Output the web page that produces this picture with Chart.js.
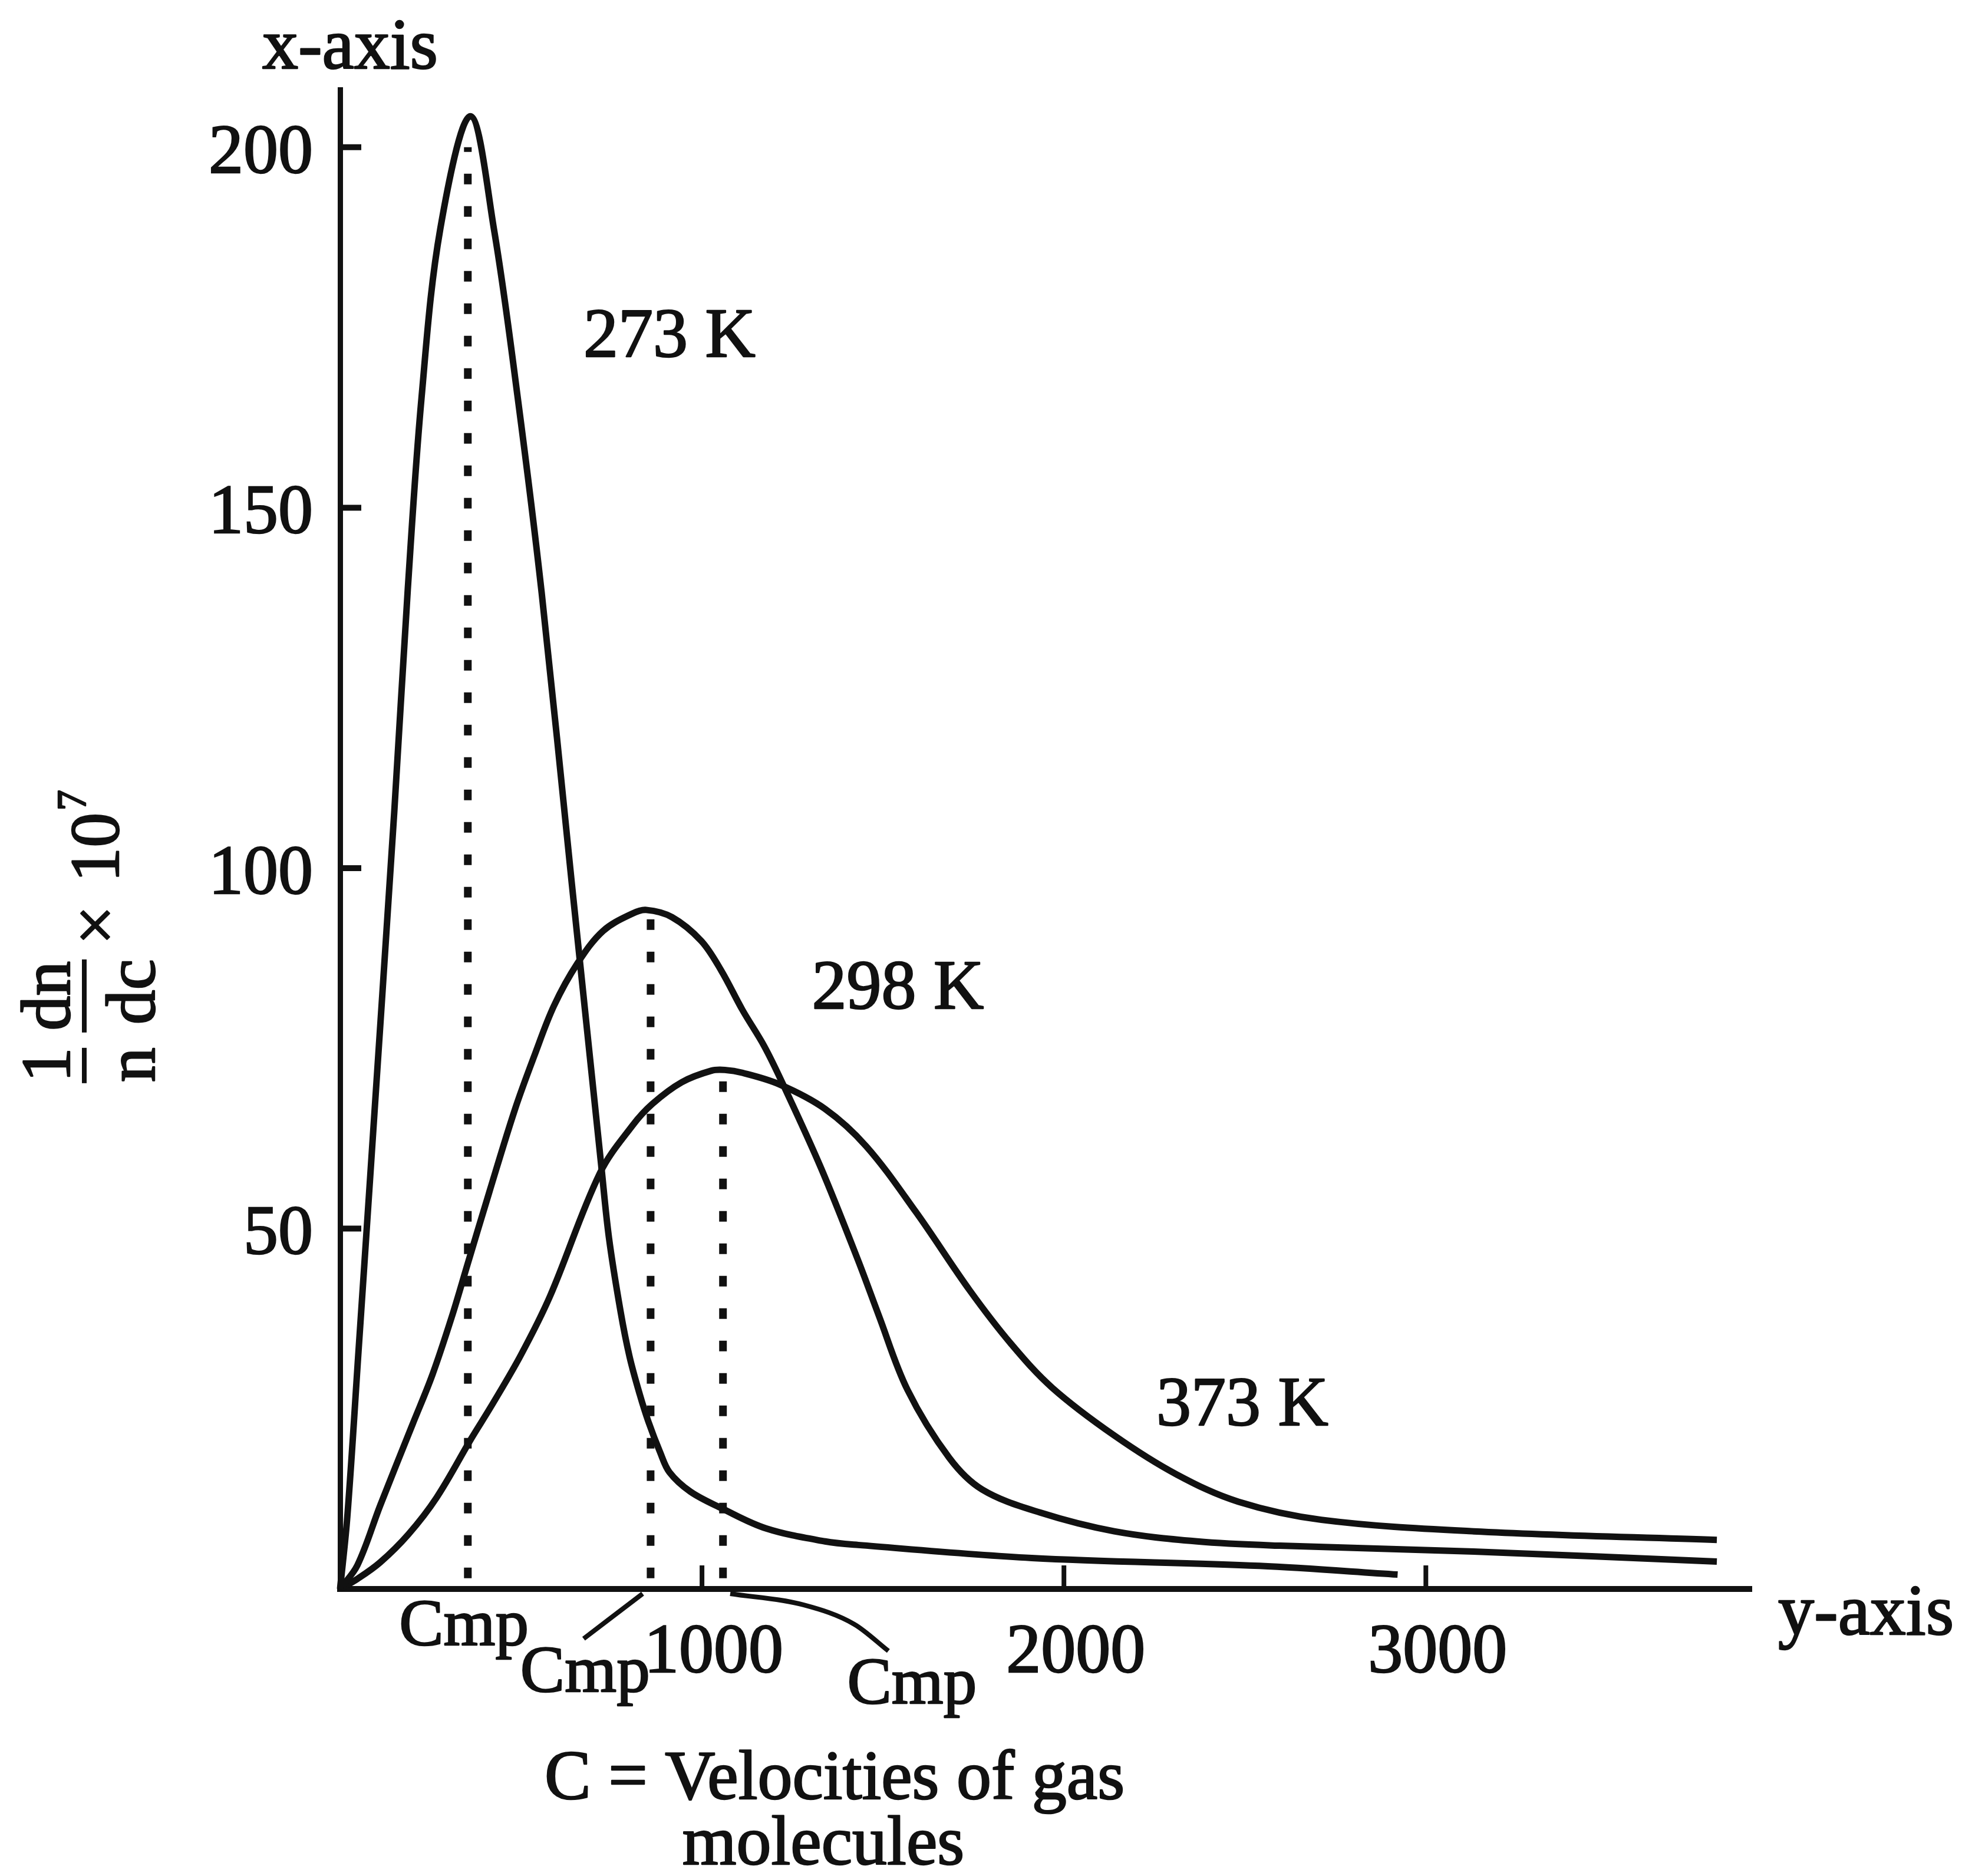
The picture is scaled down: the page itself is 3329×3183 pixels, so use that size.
<!DOCTYPE html>
<html>
<head>
<meta charset="utf-8">
<title>Maxwell distribution of molecular velocities</title>
<script src="https://cdn.jsdelivr.net/npm/chart.js@4.4.1/dist/chart.umd.min.js"></script>
<style>
  html, body { margin: 0; padding: 0; background: #fff; overflow: hidden; }
  canvas { display: block; }
</style>
</head>
<body>
<canvas id="maxwellChart" width="3329" height="3183"></canvas>
<script>
// ---- data (velocity C, 1/n dn/dc x 10^7) ----
const velocity273 = [0, 20, 51, 83, 150, 187, 225, 277, 360, 425, 491, 557, 640, 721.5, 743, 775, 800, 828, 852, 884, 910, 968, 1054, 1177, 1340, 1432, 1911, 2540, 2922];
const density273  = [0, 10, 33, 57, 108, 138.6, 165.2, 188.7, 204.3, 188.7, 165.2, 138.2, 98, 58.8, 48.7, 38.5, 32.2, 27.0, 23.2, 19.0, 16.2, 13.5, 11.2, 8.4, 6.6, 6.1, 4.3, 3.2, 2.0];

const velocity298 = [0, 48, 111, 200, 255, 309, 352, 412, 483, 537, 591, 656, 727, 808, 846, 917, 998, 1053, 1112, 1172, 1224, 1328, 1432, 1488, 1568, 1683, 1774, 1934, 2139, 2368, 2597, 3132, 3804];
const density298  = [0, 3.3, 11.6, 22.8, 29.7, 37.8, 45.0, 55.0, 66.5, 74.0, 80.9, 86.8, 91.3, 93.7, 94.2, 93.2, 89.9, 85.8, 80.3, 75.3, 70.0, 58.5, 45.5, 38.0, 27.6, 18.2, 13.8, 10.6, 8.0, 6.6, 6.0, 5.2, 3.8];

const velocity373 = [0, 48, 111, 189, 267, 363, 417, 499, 580, 718, 808, 863, 944, 1026, 1063, 1112, 1214, 1340, 1454, 1591, 1740, 1854, 1968, 2139, 2311, 2482, 2711, 3132, 3804];
const density373  = [0, 1.4, 3.7, 7.6, 12.7, 20.9, 25.3, 32.4, 40.6, 57.7, 64.3, 67.3, 70.3, 71.9, 72.0, 71.6, 70.0, 66.6, 61.4, 52.3, 41.4, 34, 27.9, 21.3, 15.9, 12.1, 9.6, 8.0, 6.8];

// most probable velocities (dotted drop lines)
const cmpVelocity = [353, 858, 1058];
const cmpTop      = [200, 93, 71];
const cmpBottom   = 1.5;

// leader lines from the "Cmp" words to the axis
const leader2Velocity = [673, 836];
const leader2Density  = [-6.9, -0.65];
const leader3Velocity = [1078, 1280, 1421, 1515];
const leader3Density  = [-0.65, -2.2, -4.9, -8.6];

const curveNames  = ['273 K', '298 K', '373 K'];
const xTickValues = [1000, 2000, 3000];
const yTickValues = [50, 100, 150, 200];

// ---- label anchors (data space) ----
const curveLabelAt = [[910, 171], [1541, 80.5], [2493, 22.7]];
const cmpLabelAt   = [[342, -7.8], [677, -14.2], [1580, -15.9]];

const ink = '#111';
const serif = '"Liberation Serif", "DejaVu Serif", serif';

function pts(xs, ys) {
    return xs.map((x, i) => ({ x: x, y: ys[i] }));
}

function curve(xs, ys) {
    return {
        data: pts(xs, ys),
        showLine: true,
        borderColor: ink,
        borderWidth: 11,
        borderJoinStyle: 'round',
        pointRadius: 0,
        tension: 0.35,
        clip: false
    };
}

function dropLine(i) {
    return {
        data: pts([cmpVelocity[i], cmpVelocity[i]], [cmpBottom, cmpTop[i]]),
        showLine: true,
        borderColor: ink,
        borderWidth: 13,
        borderDash: [18, 37],
        borderCapStyle: 'butt',
        pointRadius: 0
    };
}

function leader(xs, ys) {
    return {
        data: pts(xs, ys),
        showLine: true,
        borderColor: ink,
        borderWidth: 8,
        pointRadius: 0,
        cubicInterpolationMode: 'monotone',
        clip: false
    };
}

// filled text with a thin outline, to get the heavy printed look
function label(c, t, x, y) {
    c.fillText(t, x, y);
    c.strokeText(t, x, y);
}

// ---- extra drawing: inner ticks, labels, fraction axis title ----
const annotate = {
    id: 'annotate',
    beforeDraw(chart) {
        const c = chart.ctx;
        c.save();
        c.fillStyle = '#fff';
        c.fillRect(0, 0, chart.width, chart.height);
        c.restore();
    },
    afterDraw(chart) {
        const { ctx: c, chartArea: a, scales: { x, y } } = chart;
        c.save();
        c.strokeStyle = ink;
        c.fillStyle = ink;
        c.lineJoin = 'round';

        // tick marks pointing into the plot
        c.lineWidth = 10;
        yTickValues.forEach(v => {
            const py = y.getPixelForValue(v);
            c.beginPath(); c.moveTo(a.left, py); c.lineTo(a.left + 36, py); c.stroke();
        });
        c.lineWidth = 8;
        xTickValues.forEach(v => {
            const px = x.getPixelForValue(v);
            c.beginPath(); c.moveTo(px, a.bottom); c.lineTo(px, a.bottom - 40); c.stroke();
        });

        c.lineWidth = 2.5;

        // curve temperatures
        c.textAlign = 'center';
        c.textBaseline = 'alphabetic';
        c.font = '118px ' + serif;
        curveNames.forEach((t, i) => {
            label(c, t, x.getPixelForValue(curveLabelAt[i][0]), y.getPixelForValue(curveLabelAt[i][1]));
        });

        // Cmp words
        c.font = '113px ' + serif;
        cmpLabelAt.forEach(p => {
            label(c, 'Cmp', x.getPixelForValue(p[0]), y.getPixelForValue(p[1]));
        });

        // axis names
        c.font = '122px ' + serif;
        label(c, 'x-axis', a.left + 17, a.top - 36);
        c.textAlign = 'left';
        label(c, 'y-axis', a.right + 45, a.bottom + 77);

        // x title (two lines)
        c.textAlign = 'center';
        c.font = '118px ' + serif;
        label(c, 'C = Velocities of gas', a.left + 839, a.bottom + 356);
        label(c, 'molecules', a.left + 820, a.bottom + 467);

        // y title: 1/n dn/dc x 10^7, rotated
        c.translate(a.left - 376, y.getPixelForValue(70));
        c.rotate(-Math.PI / 2);
        c.textAlign = 'center';
        c.font = '118px ' + serif;
        label(c, '1', 33, -83);
        label(c, 'n', 33, 61);
        label(c, 'dn', 150, -83);
        label(c, 'dc', 157, 61);
        label(c, '\u00d7', 270, 0);
        label(c, '10', 402, 0);
        c.font = '70px ' + serif;
        label(c, '7', 482, -56);
        c.lineWidth = 8;
        c.beginPath(); c.moveTo(2, -58); c.lineTo(62, -58); c.stroke();
        c.beginPath(); c.moveTo(88, -58); c.lineTo(212, -58); c.stroke();

        c.restore();
    }
};

new Chart(document.getElementById('maxwellChart'), {
    type: 'scatter',
    data: {
        datasets: [
            curve(velocity273, density273),
            curve(velocity298, density298),
            curve(velocity373, density373),
            dropLine(0), dropLine(1), dropLine(2),
            leader(leader2Velocity, leader2Density),
            leader(leader3Velocity, leader3Density)
        ]
    },
    options: {
        responsive: false,
        animation: false,
        layout: { padding: { top: 152, right: 357, left: 0, bottom: 0 } },
        plugins: {
            legend: { display: false },
            tooltip: { enabled: false },
            title: { display: false }
        },
        scales: {
            x: {
                type: 'linear',
                min: 0,
                max: 3900,
                afterBuildTicks: s => { s.ticks = xTickValues.map(v => ({ value: v })); },
                afterFit: s => { s.height = 487; },
                grid: { display: false, drawTicks: false },
                border: { display: true, color: ink, width: 10 },
                ticks: {
                    autoSkip: false,
                    maxRotation: 0,
                    padding: 39,
                    labelOffset: 20,
                    color: ink,
                    textStrokeColor: ink,
                    textStrokeWidth: 2.5,
                    font: { family: serif, size: 118 },
                    callback: v => String(v)
                }
            },
            y: {
                type: 'linear',
                min: 0,
                max: 208,
                afterBuildTicks: s => { s.ticks = yTickValues.map(v => ({ value: v })); },
                afterFit: s => { s.width = 577; },
                grid: { display: false, drawTicks: false },
                border: { display: true, color: ink, width: 9 },
                ticks: {
                    autoSkip: false,
                    padding: 46,
                    labelOffset: 12,
                    color: ink,
                    textStrokeColor: ink,
                    textStrokeWidth: 2.5,
                    font: { family: serif, size: 118 },
                    callback: v => String(v)
                }
            }
        }
    },
    plugins: [annotate]
});
</script>
</body>
</html>
